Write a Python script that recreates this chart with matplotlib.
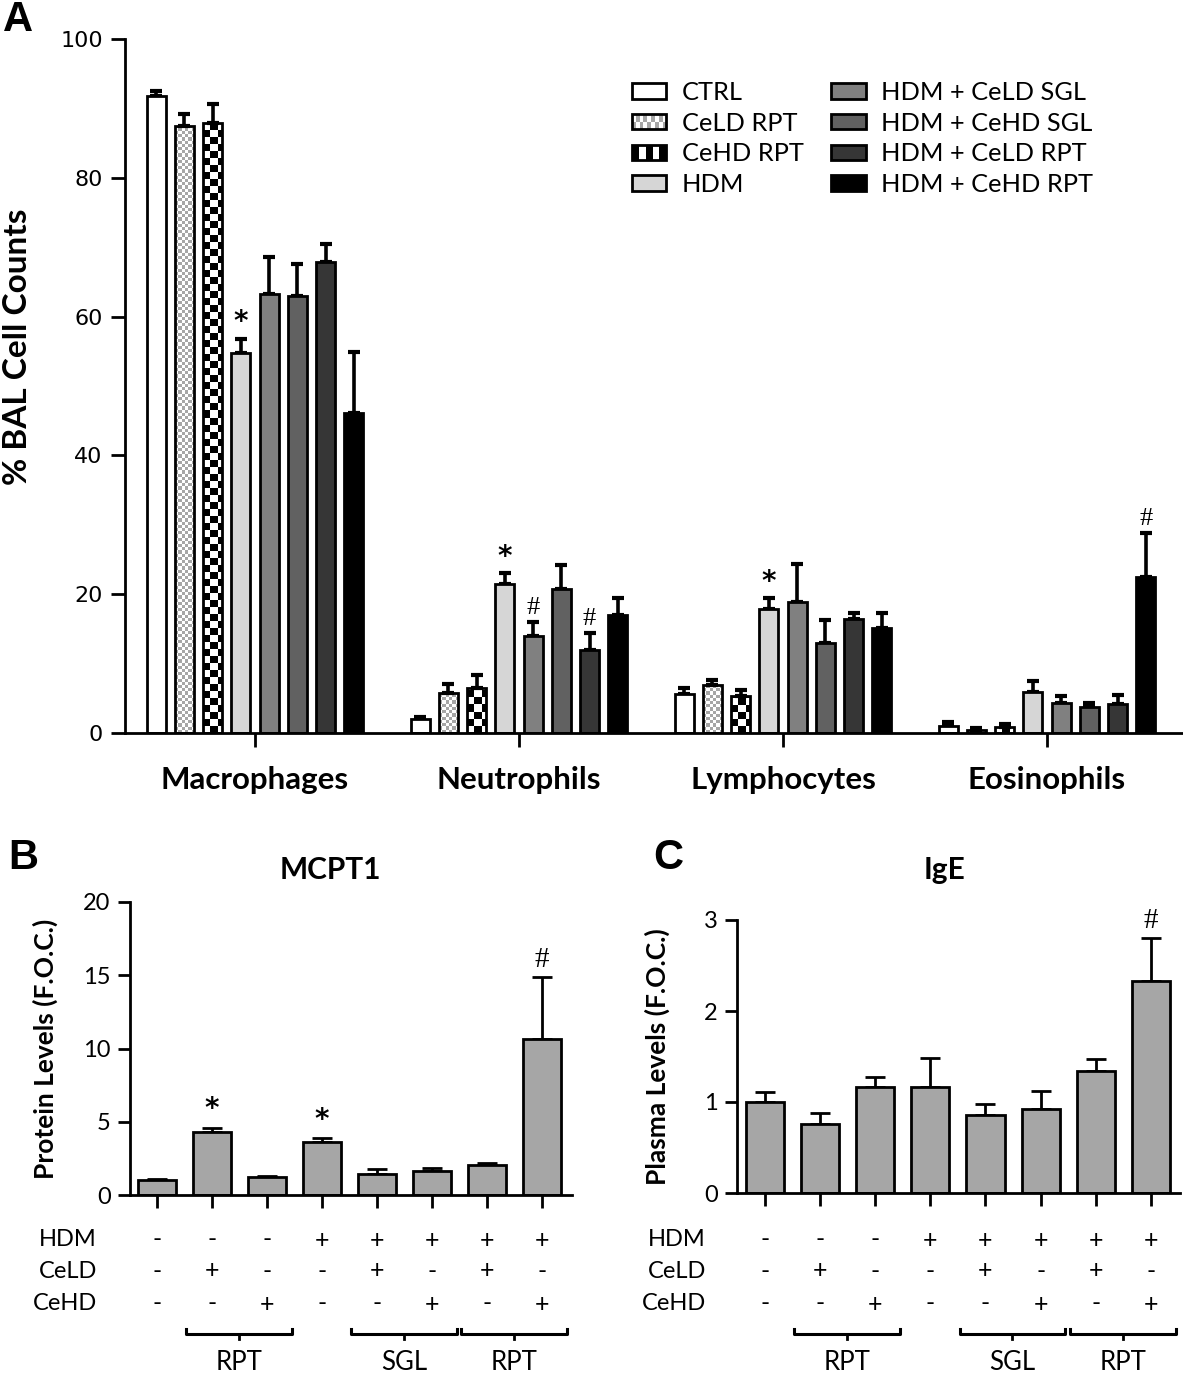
import numpy as np
import matplotlib
matplotlib.use("Agg")
import matplotlib.pyplot as plt
from matplotlib.patches import Rectangle
from matplotlib.legend_handler import HandlerBase
from matplotlib.transforms import blended_transform_factory

plt.rcParams["font.family"] = ["Lato", "DejaVu Sans"]

# ---------------------------------------------------------------------------
# Data
# ---------------------------------------------------------------------------
cell_types = ["Macrophages", "Neutrophils", "Lymphocytes", "Eosinophils"]
treatments = ["CTRL", "CeLD RPT", "CeHD RPT", "HDM",
              "HDM + CeLD SGL", "HDM + CeHD SGL", "HDM + CeLD RPT", "HDM + CeHD RPT"]

# % BAL cell counts, one list per treatment (Macro, Neutro, Lympho, Eosino)
ctrl_mean = [91.8, 2.0, 5.6, 1.0]
celd_rpt_mean = [87.4, 5.8, 6.9, 0.5]
cehd_rpt_mean = [87.9, 6.5, 5.3, 0.9]
hdm_mean = [54.7, 21.5, 17.9, 5.9]
hdm_celd_sgl_mean = [63.3, 14.0, 18.9, 4.3]
hdm_cehd_sgl_mean = [63.0, 20.7, 13.0, 3.7]
hdm_celd_rpt_mean = [67.9, 12.0, 16.4, 4.2]
hdm_cehd_rpt_mean = [46.1, 17.0, 15.1, 22.5]

ctrl_sem = [0.7, 0.3, 0.9, 0.6]
celd_rpt_sem = [1.8, 1.2, 0.8, 0.2]
cehd_rpt_sem = [2.7, 1.8, 0.9, 0.4]
hdm_sem = [2.1, 1.5, 1.5, 1.6]
hdm_celd_sgl_sem = [5.3, 2.0, 5.4, 1.0]
hdm_cehd_sgl_sem = [4.6, 3.5, 3.3, 0.6]
hdm_celd_rpt_sem = [2.6, 2.4, 0.9, 1.3]
hdm_cehd_rpt_sem = [8.8, 2.4, 2.2, 6.3]

# significance marks in panel A: (treatment index, cell type index, symbol)
marks_a = [(3, 0, "*"), (3, 1, "*"), (4, 1, "#"), (6, 1, "#"), (3, 2, "*"), (7, 3, "#")]

# panel B / C (fold of control)
mcpt1_mean = [1.0, 4.3, 1.2, 3.6, 1.45, 1.65, 2.05, 10.65]
mcpt1_sem = [0.1, 0.3, 0.1, 0.3, 0.35, 0.2, 0.15, 4.25]
mcpt1_marks = ["", "*", "", "*", "", "", "", "#"]

ige_mean = [1.0, 0.76, 1.17, 1.17, 0.86, 0.92, 1.34, 2.33]
ige_sem = [0.11, 0.12, 0.11, 0.31, 0.12, 0.2, 0.13, 0.47]
ige_marks = ["", "", "", "", "", "", "", "#"]

hdm_row = ["-", "-", "-", "+", "+", "+", "+", "+"]
celd_row = ["-", "+", "-", "-", "+", "-", "+", "-"]
cehd_row = ["-", "-", "+", "-", "-", "+", "-", "+"]
row_names = ["HDM", "CeLD", "CeHD"]
brackets = [(1, 2, "RPT"), (4, 5, "SGL"), (6, 7, "RPT")]

# ---------------------------------------------------------------------------
# Styles
# ---------------------------------------------------------------------------
W, H = 1183, 1375
fig = plt.figure(figsize=(W / 100, H / 100), dpi=100)


def fy(ypix):
    return 1 - ypix / H


def box(x0, x1, ytop, ybot):
    return [x0 / W, fy(ybot), (x1 - x0) / W, (ybot - ytop) / H]


face_a = ["white", None, None, "#d6d6d6", "#808080", "#616161", "#363636", "black"]
checker_a = {1: ("white", "#a6a6a6", 3.2), 2: ("white", "black", 7.0)}
EDGE = 2.0


def style_axes(ax, lw=2.0):
    for s in ("top", "right"):
        ax.spines[s].set_visible(False)
    for s in ("left", "bottom"):
        ax.spines[s].set_linewidth(lw)
    ax.tick_params(width=lw, length=9, direction="out")


def checker_fill(ax, patch, c1, c2, cell_px):
    x0, y0 = patch.get_x(), patch.get_y()
    w, h = patch.get_width(), patch.get_height()
    p0 = ax.transData.transform((x0, y0))
    p1 = ax.transData.transform((x0 + w, y0 + h))
    nx = max(1, int(np.ceil(abs(p1[0] - p0[0]) / cell_px)))
    ny = max(1, int(np.ceil(abs(p1[1] - p0[1]) / cell_px)))
    dx = w / (abs(p1[0] - p0[0]) / cell_px)
    dy = h / (abs(p1[1] - p0[1]) / cell_px) if h > 0 else 1
    arr = (np.add.outer(np.arange(ny), np.arange(nx)) % 2).astype(float)
    cmap = matplotlib.colors.ListedColormap([c1, c2])
    im = ax.imshow(arr, cmap=cmap, vmin=0, vmax=1, origin="lower",
                   extent=[x0, x0 + nx * dx, y0, y0 + ny * dy],
                   interpolation="nearest", aspect="auto", zorder=0.5)
    im.set_clip_path(patch)


class CheckerHandle:
    def __init__(self, c1, c2, nx, ny):
        self.c1, self.c2, self.nx, self.ny = c1, c2, nx, ny


class HandlerChecker(HandlerBase):
    def create_artists(self, legend, orig, xd, yd, width, height, fontsize, trans):
        arts = []
        cw, ch = width / orig.nx, height / orig.ny
        for i in range(orig.nx):
            for j in range(orig.ny):
                c = orig.c1 if (i + j) % 2 == 0 else orig.c2
                arts.append(Rectangle((-xd + i * cw, -yd + j * ch), cw, ch,
                                      facecolor=c, edgecolor="none", transform=trans))
        arts.append(Rectangle((-xd, -yd), width, height, facecolor="none",
                              edgecolor="black", lw=EDGE, transform=trans))
        return arts


def sig_text(ax, x, y, sym, dy, star_size, hash_size):
    ax.annotate(sym, (x, y), xytext=(0, dy), textcoords="offset points",
                ha="center", va="bottom",
                fontsize=star_size if sym == "*" else hash_size,
                fontweight="bold" if sym == "*" else "normal",
                family=["DejaVu Sans"] if sym == "*" else ["Liberation Serif"])


# ---------------------------------------------------------------------------
# Panel A
# ---------------------------------------------------------------------------
axa = fig.add_axes(box(125, 1183, 39, 733))
style_axes(axa)
means = [ctrl_mean, celd_rpt_mean, cehd_rpt_mean, hdm_mean,
         hdm_celd_sgl_mean, hdm_cehd_sgl_mean, hdm_celd_rpt_mean, hdm_cehd_rpt_mean]
sems = [ctrl_sem, celd_rpt_sem, cehd_rpt_sem, hdm_sem,
        hdm_celd_sgl_sem, hdm_cehd_sgl_sem, hdm_celd_rpt_sem, hdm_cehd_rpt_sem]
gx = np.arange(len(cell_types))
step, bw = 0.107, 0.072
axa.set_xlim(-0.492, 3.515)
axa.set_ylim(0, 100)
containers = []
for k, name in enumerate(treatments):
    xs = gx + (k - 3.5) * step
    fc = face_a[k] if face_a[k] is not None else "none"
    bars = axa.bar(xs, means[k], bw, color=fc, edgecolor="black", linewidth=EDGE,
                   zorder=1, label=name)
    axa.errorbar(xs, means[k], yerr=[np.zeros(4), sems[k]], fmt="none",
                 ecolor="black", elinewidth=2.6, capsize=4.5, capthick=3, zorder=0.8)
    containers.append(bars)
for k, (c1, c2, cell) in checker_a.items():
    for p in containers[k].patches:
        checker_fill(axa, p, c1, c2, cell)
for k, g, sym in marks_a:
    sig_text(axa, g + (k - 3.5) * step, means[k][g] + sems[k][g], sym, 2, 20, 19)
axa.set_xticks(gx)
axa.set_xticklabels(cell_types, fontsize=22.5, fontweight="bold")
axa.tick_params(axis="x", length=10, pad=14)
axa.set_yticks([0, 20, 40, 60, 80, 100])
for t in axa.get_yticklabels():
    t.set_family(["DejaVu Sans"])
    t.set_fontsize(16)
axa.tick_params(axis="y", length=10, pad=6)
axa.set_ylabel("% BAL Cell Counts", fontsize=24, fontweight="bold")
axa.yaxis.set_label_coords(-0.088, 0.556)

handles = [containers[0], CheckerHandle("#a6a6a6", "white", 9, 2),
           CheckerHandle("black", "white", 5, 1), containers[3],
           containers[4], containers[5], containers[6], containers[7]]
leg = axa.legend(handles, treatments, ncol=2, loc="upper left",
                 bbox_to_anchor=(632 / W, fy(81)), bbox_transform=fig.transFigure,
                 frameon=False, fontsize=18.3, handlelength=1.35, handleheight=0.55,
                 handletextpad=0.6, columnspacing=1.1, labelspacing=0.3,
                 borderpad=0, borderaxespad=0,
                 handler_map={CheckerHandle: HandlerChecker()})
fig.text(18 / W, fy(20), "A", fontsize=30, fontweight="bold", family=["Liberation Sans"],
         ha="center", va="center")


# ---------------------------------------------------------------------------
# Panels B and C
# ---------------------------------------------------------------------------
def small_panel(rect, xlim, vals, errs, marks, ymax, yticks, ylabel, title, title_x,
                letter, letter_x, rowlabel_x, ylab_x):
    ax = fig.add_axes(rect)
    style_axes(ax)
    xs = np.arange(len(vals))
    ax.bar(xs, vals, 0.69, color="#a6a6a6", edgecolor="black", linewidth=EDGE, zorder=1)
    ax.errorbar(xs, vals, yerr=[np.zeros(len(vals)), errs], fmt="none", ecolor="black",
                elinewidth=2, capsize=7, capthick=2, zorder=0.8)
    ax.set_xlim(*xlim)
    ax.set_ylim(0, ymax)
    ax.set_xticks(xs)
    ax.set_xticklabels([])
    ax.tick_params(axis="x", length=9)
    ax.set_yticks(yticks)
    ax.set_yticklabels([str(t) for t in yticks], fontsize=17)
    ax.tick_params(axis="y", length=9, pad=5)
    for x, v, e, m in zip(xs, vals, errs, marks):
        if m:
            sig_text(ax, x, v + e, m, 3, 20, 21)
    ax.set_ylabel(ylabel, fontsize=19, fontweight="bold")
    ax.yaxis.set_label_coords(ylab_x, 0.5)
    fig.text(title_x / W, fy(870), title, fontsize=21.5, fontweight="bold",
             ha="center", va="center")
    fig.text(letter_x / W, fy(858), letter, fontsize=30, fontweight="bold",
             family=["Liberation Sans"], ha="center", va="center")

    tr = blended_transform_factory(ax.transData, fig.transFigure)
    for name, row, ypix in zip(row_names, [hdm_row, celd_row, cehd_row],
                               [1240, 1271, 1304]):
        fig.text(rowlabel_x / W, fy(ypix), name, fontsize=17, ha="right", va="center")
        for x, s in zip(xs, row):
            ax.text(x, fy(ypix), s, transform=tr, fontsize=18, ha="center", va="center",
                    clip_on=False)
    for i, j, lab in brackets:
        x0, x1 = i - 0.47, j + 0.45
        yb, yt = fy(1334), fy(1329)
        ax.plot([x0, x0, x1, x1], [yt, yb, yb, yt], transform=tr, color="black",
                lw=2.2, clip_on=False, solid_joinstyle="round")
        xm = (x0 + x1) / 2
        ax.plot([xm, xm], [yb, fy(1339)], transform=tr, color="black", lw=2,
                clip_on=False)
        ax.text(xm, fy(1363), lab, transform=tr, fontsize=18.5, ha="center",
                va="center", clip_on=False)
    return ax


small_panel(box(130, 572, 902, 1195), (-0.49, 7.55), mcpt1_mean, mcpt1_sem, mcpt1_marks,
            20, [0, 5, 10, 15, 20], "Protein Levels (F.O.C.)", "MCPT1", 330, "B", 23, 97,
            -0.163)
small_panel(box(737, 1180, 920, 1193), (-0.51, 7.53), ige_mean, ige_sem, ige_marks,
            3, [0, 1, 2, 3], "Plasma Levels (F.O.C.)", "IgE", 944, "C", 668, 706, -0.151)

fig.savefig("out.png", dpi=100)
